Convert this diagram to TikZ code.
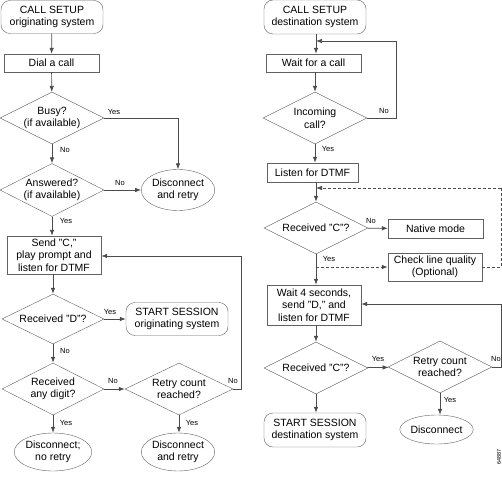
\documentclass[tikz,border=0pt]{standalone}
\usepackage{fontspec}
\setmainfont{Liberation Sans}
\usetikzlibrary{shapes.geometric,arrows.meta}
\definecolor{ln}{gray}{0.3}
\definecolor{bd}{gray}{0.38}
\begin{document}
\begin{tikzpicture}[x=1pt,y=-1pt,
  every node/.style={font=\fontsize{10.5}{12.5}\selectfont, align=center, inner sep=0pt, text=black},
  term/.style={draw=bd, rounded corners=9pt, minimum width=#1, minimum height=33pt},
  term/.default=102pt,
  procbox/.style={draw=bd, minimum height=18pt},
  decis/.style={draw=bd, diamond, aspect=2},
  endell/.style={draw=bd, ellipse},
  lbl/.style={font=\fontsize{7.5}{9}\selectfont},
  conn/.style={draw=ln, line width=0.7pt, -{Latex[length=6pt,width=4.5pt]}},
  plain/.style={draw=ln, line width=0.7pt},
  dconn/.style={conn, dashed, dash pattern=on 3pt off 2pt},
  dplain/.style={plain, dashed, dash pattern=on 3pt off 2pt}
]
\useasboundingbox (0,0) rectangle (502,478);
% ---------- left column ----------
\node[term, minimum height=33pt] (cs1) at (52,17) {CALL SETUP\\originating system};
\node[procbox, minimum width=95pt] (dial) at (51.5,63) {Dial a call};
\node[decis, minimum width=104pt, minimum height=52pt] (busy) at (52,118) {Busy?\\(if available)};
\node[decis, minimum width=104pt, minimum height=53pt] (ans) at (52,190) {Answered?\\(if available)};
\node[endell, minimum width=72pt, minimum height=41pt] (disc1) at (178,190) {Disconnect\\and retry};
\node[procbox, minimum width=94pt, minimum height=38pt] (sendc) at (54,255) {Send "C,"\\play prompt and\\listen for DTMF};
\node[decis, minimum width=102pt, minimum height=50pt] (recd) at (53,319) {Received "D"?};
\node[term] (start1) at (177,319) {START SESSION\\originating system};
\node[decis, minimum width=102pt, minimum height=52pt] (anyd) at (53,389) {Received\\any digit?};
\node[decis, minimum width=108pt, minimum height=52pt] (retry1) at (179,389) {Retry count\\reached?};
\node[endell, minimum width=72pt, minimum height=38pt] (disc2) at (53,452) {Disconnect;\\no retry};
\node[endell, minimum width=73pt, minimum height=38pt] (disc3) at (178,452) {Disconnect\\and retry};
% ---------- right column ----------
\node[term, minimum height=34pt] (cs2) at (315,17) {CALL SETUP\\destination system};
\node[procbox, minimum width=95pt] (wait) at (313.5,63) {Wait for a call};
\node[decis, minimum width=104pt, minimum height=52pt] (inc) at (315,118) {Incoming\\call?};
\node[procbox, minimum width=91pt, minimum height=19pt] (listen) at (312.5,172.5) {Listen for DTMF};
\node[decis, minimum width=104pt, minimum height=52pt] (recc) at (316,228) {Received "C"?};
\node[procbox, minimum width=95pt, minimum height=19pt] (native) at (435.5,228.5) {Native mode};
\node[procbox, minimum width=94pt, minimum height=28pt] (check) at (435,267) {Check line quality\\(Optional)};
\node[procbox, minimum width=94pt, minimum height=40pt] (wait4) at (314,305) {Wait 4 seconds,\\send "D," and\\listen for DTMF};
\node[decis, minimum width=104pt, minimum height=52pt] (recc2) at (316,368) {Received "C"?};
\node[decis, minimum width=104pt, minimum height=52pt] (retry2) at (440,367) {Retry count\\reached?};
\node[term, minimum height=34pt] (start2) at (315,430) {START SESSION\\destination system};
\node[endell, minimum width=59pt, minimum height=29pt] (disc4) at (436.5,429.5) {Disconnect};
% ---------- coordinates ----------
\coordinate (c1) at (241,389);
\coordinate (c2) at (241,256);
\coordinate (c3) at (396,118);
\coordinate (c4) at (396,41);
\coordinate (c5) at (316,41);
\coordinate (c6) at (316,188);
\coordinate (c7) at (316,267);
\coordinate (c8) at (501,267);
\coordinate (c9) at (501,188);
\coordinate (c10) at (501,367);
\coordinate (c11) at (501,304);
% ---------- left connectors ----------
\draw[conn] (cs1) -- (dial);
\draw[conn] (dial) -- (busy);
\draw[conn] (busy) -- (ans);
\draw[conn] (busy.east) -| (disc1.north);
\draw[conn] (ans) -- (disc1);
\draw[conn] (ans.south) -- (ans.south |- sendc.north);
\draw[conn] (sendc.south -| recd.north) -- (recd.north);
\draw[conn] (recd) -- (start1);
\draw[conn] (recd) -- (anyd);
\draw[conn] (anyd) -- (retry1);
\draw[conn] (anyd) -- (disc2);
\draw[conn] (retry1.south) -- (retry1.south |- disc3.north);
\draw[plain] (retry1.east) -- (c1) -- (c2);
\draw[conn] (c2) -- (sendc.east |- c2);
% ---------- right connectors ----------
\draw[conn] (cs2.south -| c5) -- (c5 |- wait.north);
\draw[conn] (wait.south -| inc.north) -- (inc.north);
\draw[plain] (inc.east) -- (c3) -- (c4);
\draw[conn] (c4) -- (c5);
\draw[conn] (inc.south) -- (inc.south |- listen.north);
\draw[conn] (listen.south -| recc.north) -- (recc.north);
\draw[conn] (recc) -- (native);
\draw[conn] (recc.south) -- (recc.south |- wait4.north);
\draw[dconn] (c7) -- (check.west);
\draw[dplain] (check.east) -- (c8) -- (c9);
\draw[dconn] (c9) -- (c6);
\draw[conn] (wait4.south -| recc2.north) -- (recc2.north);
\draw[conn] (recc2) -- (retry2);
\draw[conn] (recc2) -- (start2.north -| recc2.south);
\draw[conn] (retry2.south) -- (retry2.south |- disc4.north);
\draw[plain] (retry2.east) -- (c10) -- (c11);
\draw[conn] (c11) -- (wait4.east |- c11);
% ---------- labels ----------
\node[lbl] (l1) at (114,112) {Yes};
\node[lbl] (l2) at (65,150) {No};
\node[lbl] (l3) at (120,183) {No};
\node[lbl] (l4) at (66,221) {Yes};
\node[lbl] (l5) at (110,312) {Yes};
\node[lbl] (l6) at (65,351) {No};
\node[lbl] (l7) at (113,381) {No};
\node[lbl] (l8) at (66,423) {Yes};
\node[lbl] (l9) at (192,423) {Yes};
\node[lbl] (l10) at (233,381) {No};
\node[lbl] (l11) at (384,111) {No};
\node[lbl] (l12) at (328,149) {Yes};
\node[lbl] (l13) at (371,221) {No};
\node[lbl] (l14) at (329,259) {Yes};
\node[lbl] (l15) at (378,359) {Yes};
\node[lbl] (l16) at (496,359) {No};
\node[lbl] (l17) at (450,400) {Yes};
\node[font=\fontsize{5.5}{6}\selectfont, rotate=90] (id) at (499,457) {64887};
\end{tikzpicture}
\end{document}
